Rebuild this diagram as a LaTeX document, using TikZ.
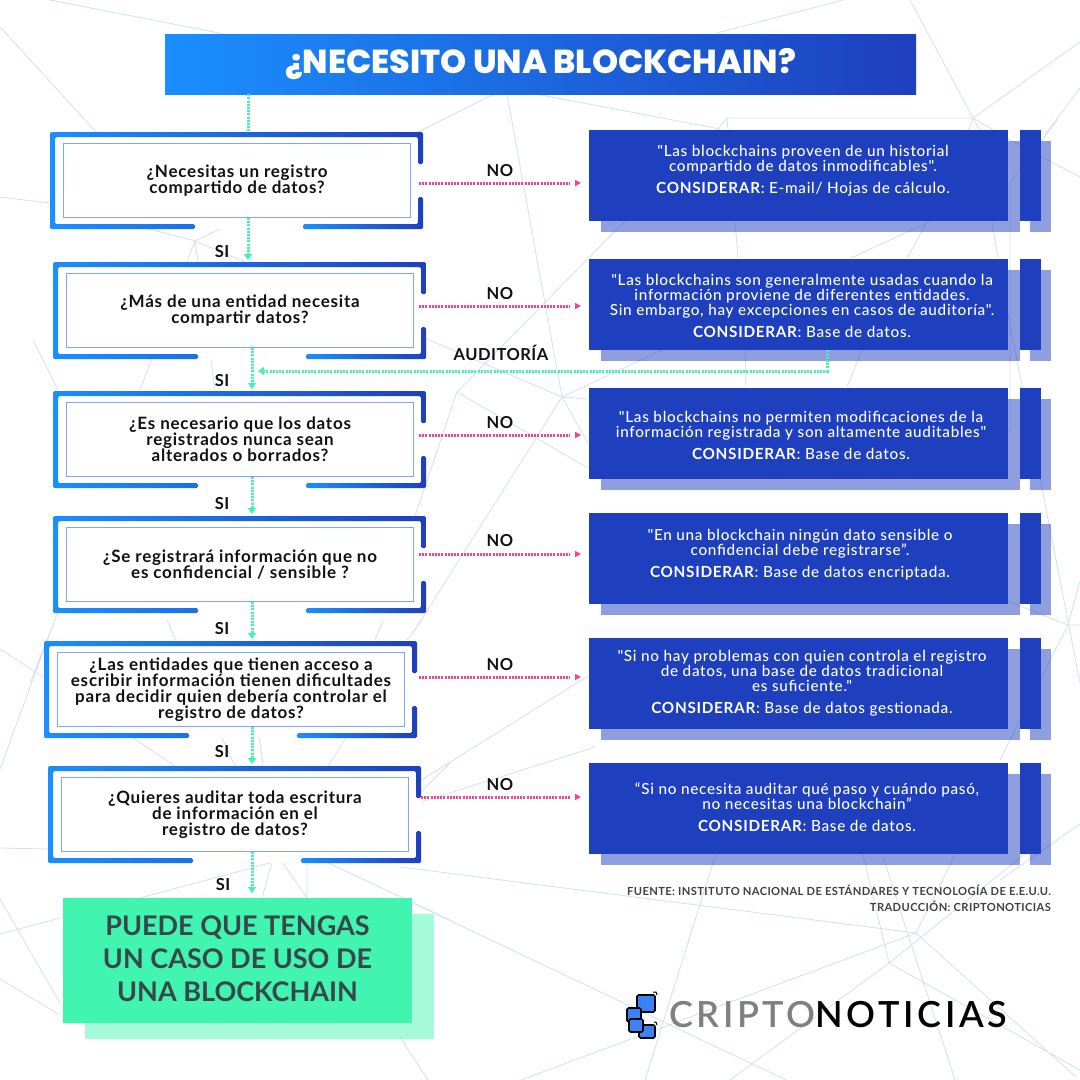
\documentclass[tikz,border=0pt]{standalone}
\usepackage{fontspec}
\setmainfont{Lato}
\newfontfamily\titlefont[BoldFont={Poppins ExtraBold}]{Poppins}
\newfontfamily\qfnt[LetterSpace=4.5]{Lato}
\newfontfamily\rfnt[LetterSpace=4.5,BoldFont={Lato Bold}]{Lato Medium}
\newfontfamily\lblfnt[LetterSpace=3]{Lato}
\newfontfamily\srcfnt[LetterSpace=3.5]{Lato}
\newfontfamily\lgfnt[LetterSpace=10]{Lato Semibold}
\usetikzlibrary{arrows.meta}
\definecolor{bl}{HTML}{1A8FFF}
\definecolor{db}{HTML}{1E3FBE}
\definecolor{inb}{HTML}{7EA6F2}
\definecolor{gr}{HTML}{41F5B0}
\definecolor{pk}{HTML}{F5448F}
\definecolor{net}{HTML}{D3DFF5}
\definecolor{ink}{HTML}{111111}
\definecolor{lg}{HTML}{3B82F6}
\definecolor{endtx}{HTML}{37474A}
\tikzset{
 x=1pt,y=-1pt,
 netline/.style={net,line width=0.8},
 qbox/.style={draw=inb,fill=white,line width=1,minimum width=347,minimum height=74,inner sep=0,anchor=north west,align=center,text=ink,font=\qfnt\fontsize{17}{16}\selectfont\bfseries},
 rbox/.style={fill=db,minimum width=419,minimum height=91,inner sep=0,anchor=north west},
 rtxt/.style={text=white,align=center,inner sep=0,font=\rfnt\fontsize{15.3}{15}\selectfont},
 lbl/.style={text=ink,inner sep=0,font=\lblfnt\fontsize{16.5}{15}\selectfont\bfseries},
 yes/.style={gr,line width=3,dash pattern=on 2pt off 1.2pt,-{Triangle[length=6,width=8]}},
 nope/.style={pk,line width=3,dash pattern=on 2pt off 1.2pt,-{Square[length=5,width=3.5,color=white,fill=white] Triangle[length=6,width=6]}},
 yesline/.style={gr,line width=3,dash pattern=on 2pt off 1.2pt},
 logosq/.style={draw=black,fill=lg,line width=1.6,rounded corners=1.5},
 srctxt/.style={anchor=east,inner sep=0,text=black!75,font=\srcfnt\fontsize{11.15}{11}\selectfont\bfseries},
}
\newcommand{\qframe}[2]{%
 \fill[white] ({#1},{#2}) rectangle ({#1+373},{#2+97});
 \path[left color=bl,right color=db,rounded corners=1.5]
  ({#1+145},{#2+97}) -- ({#1},{#2+97}) -- ({#1},{#2}) -- ({#1+373},{#2}) -- ({#1+373},{#2+32}) -- ({#1+368},{#2+32})
  -- ({#1+368},{#2+5}) -- ({#1+5},{#2+5}) -- ({#1+5},{#2+92}) -- ({#1+145},{#2+92}) -- cycle;
 \path[left color=bl,right color=db,rounded corners=1.5]
  ({#1+253},{#2+92}) -- ({#1+368},{#2+92}) -- ({#1+368},{#2+65}) -- ({#1+373},{#2+65}) -- ({#1+373},{#2+97}) -- ({#1+253},{#2+97}) -- cycle;
}
\newcommand{\rshadow}[1]{%
 \fill[db,opacity=.5] (601,{#1+11}) rectangle (1020,{#1+102});
 \fill[db,opacity=.5] (1030,{#1+11}) rectangle (1051,{#1+102});
 \fill[db] (1020,{#1}) rectangle (1041,{#1+91});
}
\begin{document}
\begin{tikzpicture}
\useasboundingbox (0,0) rectangle (1080,1080);
\fill[white] (0,0) rectangle (1080,1080);
% background network
\draw[netline]
 (50,0) -- (224,34)  (0,27) -- (96,132)  (494,94) -- (418,132)
 (507,94) -- (562,397)  (536,94) -- (720,129)  (717,33) -- (843,0)
 (910,0) -- (973,118)  (1080,42) -- (973,118)  (727,118) -- (973,118)
 (727,118) -- (717,130)  (727,118) -- (728,130)  (973,118) -- (968,130)
 (973,118) -- (980,130)  (973,118) -- (993,130)  (1080,88) -- (1045,135)
 (413,333) -- (562,397)  (662,350) -- (562,397)  (562,397) -- (588,399)
 (562,397) -- (588,443)  (562,397) -- (415,630)  (625,221) -- (457,392)
 (457,392) -- (588,468)  (457,392) -- (415,516)  (588,676) -- (420,781)
 (595,747) -- (415,804)  (400,867) -- (916,933)  (916,933) -- (521,1080)
 (916,933) -- (1076,1077)  (889,963) -- (730,1080)  (889,963) -- (1030,850)
 (889,963) -- (1080,1070)  (862,850) -- (889,963)  (883,857) -- (955,1080)
 (955,855) -- (916,933)  (717,850) -- (645,1080)  (413,903) -- (786,1080)
 (400,1037) -- (428,1080)
 (33,340) -- (58,390)  (0,649) -- (43,677)  (57,614) -- (0,769)
 (0,848) -- (48,849)  (0,899) -- (60,1003)  (0,934) -- (60,918)  (0,979) -- (60,1015)
 (1057,120) -- (1010,183) -- (1010,430) -- (1000,435)  (1008,139) -- (1080,177)
 (1008,314) -- (1080,683)  (1000,598) -- (1068,625) -- (1080,625)
 (1080,581) -- (1068,625)  (1068,625) -- (1000,760)  (1080,824) -- (1000,880)
 (0,197) -- (50,203)  (150,229) -- (195,241) -- (245,217)
 (195,241) -- (187,262)  (195,241) -- (198,262)  (195,241) -- (245,262)
 (152,358) -- (140,390)  (210,352) -- (215,390)
 (55,620) -- (30,683)  (167,620) -- (176,641)  (383,620) -- (375,640)  (422,620) -- (407,640)
 (132,737) -- (175,766)  (217,727) -- (235,766)  (258,727) -- (263,766)  (353,727) -- (328,766)
 (275,852) -- (262,898)  (275,852) -- (307,898)  (307,853) -- (307,898)
 (307,853) -- (140,898)  (307,853) -- (450,920)  (450,763) -- (408,805)
 (735,222) -- (738,258)  (929,222) -- (851,258)  (927,222) -- (907,258)  (992,222) -- (998,258)
 (745,350) -- (746,387)  (862,350) -- (847,387);
% title
\node[left color=bl,right color=db,minimum width=751,minimum height=60,inner sep=0,text=white,font=\titlefont\fontsize{33.2}{33}\selectfont\bfseries] (title) at (540.5,64) {¿NECESITO UNA BLOCKCHAIN?};
% question frames
\qframe{50}{132}
\qframe{53}{262}
\qframe{53}{391}
\qframe{53}{516}
\qframe{44}{641}
\qframe{48}{766}
\node[qbox] (q1) at (63,143) {¿Necesitas un registro\\compartido de datos?};
\node[qbox] (q2) at (66,273) {¿Más de una entidad necesita\\compartir datos?};
\node[qbox] (q3) at (66,402) {¿Es necesario que los datos\\registrados nunca sean\\alterados o borrados?};
\node[qbox] (q4) at (66,527) {¿Se registrará información que no\\es confidencial / sensible ?};
\node[qbox] (q5) at (57,652) {¿Las entidades que tienen acceso a\\escribir información tienen dificultades\\para decidir quien debería controlar el\\registro de datos?};
\node[qbox] (q6) at (61,777) {¿Quieres auditar toda escritura\\de información en el\\registro de datos?};
% right boxes
\rshadow{130}\rshadow{259}\rshadow{388}\rshadow{513}\rshadow{638}\rshadow{763}
\node[rbox] (r1) at (589,130) {};
\node[rbox] (r2) at (589,259) {};
\node[rbox] (r3) at (589,388) {};
\node[rbox] (r4) at (589,513) {};
\node[rbox] (r5) at (589,638) {};
\node[rbox] (r6) at (589,763) {};
\node[rtxt] (t1) at (803,170.5) {"Las blockchains proveen de un historial\\compartido de datos inmodificables".\\[7pt]\textbf{CONSIDERAR}: E-mail/ Hojas de cálculo.};
\node[rtxt] (t2) at (802,306) {"Las blockchains son generalmente usadas cuando la\\información proviene de diferentes entidades.\\Sin embargo, hay excepciones en casos de auditoría".\\[7pt]\textbf{CONSIDERAR}: Base de datos.};
\node[rtxt] (t3) at (801,435.5) {"Las blockchains no permiten modificaciones de la\\información registrada y son altamente auditables"\\[7pt]\textbf{CONSIDERAR}: Base de datos.};
\node[rtxt] (t4) at (800,554.5) {"En una blockchain ningún dato sensible o\\confidencial debe registrarse”.\\[7pt]\textbf{CONSIDERAR}: Base de datos encriptada.};
\node[rtxt] (t5) at (802,683) {"Si no hay problemas con quien controla el registro\\de datos, una base de datos tradicional\\es suficiente."\\[7pt]\textbf{CONSIDERAR}: Base de datos gestionada.};
\node[rtxt] (t6) at (807,807.5) {“Si no necesita auditar qué paso y cuándo pasó,\\no necesitas una blockchain”\\[7pt]\textbf{CONSIDERAR}: Base de datos.};
% end box
\fill[gr,opacity=.47] (85,914) rectangle (434,1039);
\node[fill=gr,minimum width=349,minimum height=125,inner sep=0,anchor=north west] (endbox) at (63,898) {};
\node[inner sep=0,align=center,text=endtx,font=\fontsize{27}{33}\selectfont\bfseries] (endtxt) at (237.5,959) {PUEDE QUE TENGAS\\UN CASO DE USO DE\\UNA BLOCKCHAIN};
% connectors
\coordinate (a0) at (248,132);
\coordinate (a1) at (248,260);
\coordinate (a2) at (252,389);
\coordinate (a3) at (252,514);
\coordinate (a4) at (252,639);
\coordinate (a5) at (252,764);
\coordinate (a6) at (252,893);
\coordinate (audB) at (827,371);
\coordinate (audT) at (258,371);
\draw[yesline] (title.south -| a0) -- (a0);
\draw[yes] (q1.south -| a1) -- (a1);
\draw[yes] (q2.south -| a2) -- (a2);
\draw[yes] (q3.south -| a3) -- (a3);
\draw[yes] (q4.south -| a4) -- (a4);
\draw[yes] (q5.south -| a5) -- (a5);
\draw[yes] (q6.south -| a6) -- (a6);
\draw[yes] (r2.south -| audB) -- (audB) -- (audT);
\coordinate (n1) at (419,183);\coordinate (n2) at (419,306);\coordinate (n3) at (419,435);\coordinate (n4) at (419,554);\coordinate (n5) at (419,677);\coordinate (n6) at (421,797);
\coordinate (e1) at (581,183);\coordinate (e2) at (581,306);\coordinate (e3) at (581,435);\coordinate (e4) at (581,554);\coordinate (e5) at (581,677);\coordinate (e6) at (581,797);
\draw[nope] (n1) -- (e1);
\draw[nope] (n2) -- (e2);
\draw[nope] (n3) -- (e3);
\draw[nope] (n4) -- (e4);
\draw[nope] (n5) -- (e5);
\draw[nope] (n6) -- (e6);
% labels
\node[lbl] (no1) at (500,171) {NO};
\node[lbl] (no2) at (500,294) {NO};
\node[lbl] (no3) at (500,423) {NO};
\node[lbl] (no4) at (500,541) {NO};
\node[lbl] (no5) at (500,665) {NO};
\node[lbl] (no6) at (500,785) {NO};
\node[lbl] (aud) at (501,353) {AUDITORÍA};
\node[lbl] (s1) at (222,252) {SI};
\node[lbl] (s2) at (222,381) {SI};
\node[lbl] (s3) at (222,504) {SI};
\node[lbl] (s4) at (222,629) {SI};
\node[lbl] (s5) at (222,752) {SI};
\node[lbl] (s6) at (223,885) {SI};
% source
\node[srctxt] (src) at (1051,890) {FUENTE: INSTITUTO NACIONAL DE ESTÁNDARES Y TECNOLOGÍA DE E.E.U.U.};
\node[srctxt] (trad) at (1051,906) {TRADUCCIÓN: CRIPTONOTICIAS};
% logo
\draw[black,line width=1] (653,992) -- (656,992) -- (657,995);
\draw[black,line width=1] (654,1022) -- (656,1022) -- (657,1025);
\draw[logosq] (637,995) rectangle (655,1012);
\draw[logosq] (627,1008) rectangle (641,1022);
\draw[logosq] (639,1025) rectangle (655,1038);
\draw[logosq] (629,1019) rectangle (643,1032);
\node[anchor=west,inner sep=0,font=\lgfnt\fontsize{36}{36}\selectfont] (logo) at (669,1015) {\textcolor{black!50}{CRIPTO}\textcolor{black}{NOTICIAS}};
\end{tikzpicture}
\end{document}
